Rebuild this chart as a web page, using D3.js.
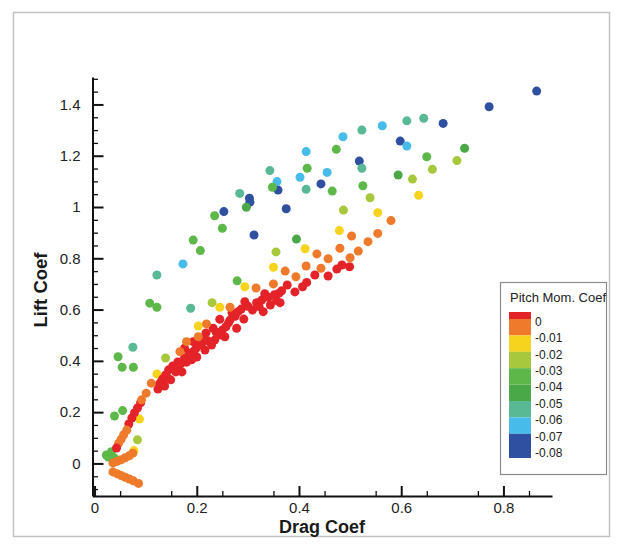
<!DOCTYPE html>
<html>
<head>
<meta charset="utf-8">
<script src="https://cdn.jsdelivr.net/npm/d3@7"></script>
<style>
  body { margin: 0; background: #fff; }
  text { font-family: "Liberation Sans", Arial, Helvetica, sans-serif; }
</style>
</head>
<body>
<div id="chart"></div>
<script>
// tick labels
let xTicks = [0, 0.2, 0.4, 0.6, 0.8];
let yTicks = [0, 0.2, 0.4, 0.6, 0.8, 1, 1.2, 1.4];

// legend levels (pitch moment coef)
let levels = [0, -0.01, -0.02, -0.03, -0.04, -0.05, -0.06, -0.07, -0.08];
let bandColors = ["#2f4fa0", "#47bbea", "#58b994", "#4aa848", "#5db849", "#a7c73c", "#f6d31d", "#ef7a2b", "#e42329"];

// points [drag coef, lift coef], one array per colour band
let redPts = [[0.431,0.735],[0.457,0.731],[0.333,0.662],[0.366,0.673],[0.377,0.696],[0.392,0.669],[0.407,0.689],[0.415,0.706],[0.484,0.774],[0.499,0.767],[0.474,0.758],[0.294,0.631],[0.317,0.627],[0.309,0.598],[0.330,0.592],[0.344,0.618],[0.356,0.635],[0.363,0.627],[0.281,0.592],[0.245,0.562],[0.265,0.559],[0.292,0.563],[0.278,0.527],[0.257,0.533],[0.232,0.527],[0.245,0.501],[0.255,0.494],[0.229,0.462],[0.212,0.488],[0.193,0.475],[0.209,0.462],[0.176,0.449],[0.193,0.436],[0.183,0.416],[0.190,0.404],[0.170,0.391],[0.361,0.664],[0.124,0.290],[0.127,0.310],[0.133,0.329],[0.139,0.345],[0.145,0.365],[0.153,0.380],[0.159,0.357],[0.163,0.396],[0.171,0.357],[0.176,0.411],[0.149,0.326],[0.137,0.302],[0.200,0.415],[0.216,0.442],[0.235,0.481],[0.218,0.509],[0.269,0.587],[0.327,0.637],[0.067,0.154],[0.073,0.177],[0.078,0.197],[0.084,0.216],[0.090,0.236],
  [0.130,0.318],[0.142,0.335],[0.156,0.370],[0.166,0.384],[0.180,0.395],[0.186,0.430],[0.198,0.447],[0.204,0.470],[0.222,0.478],[0.238,0.512],[0.250,0.520],[0.262,0.548],[0.275,0.574],[0.287,0.602],[0.300,0.613],[0.322,0.612],[0.340,0.648],[0.352,0.658]];
let orangePts = [[0.435,0.817],[0.457,0.798],[0.373,0.750],[0.394,0.728],[0.414,0.770],[0.443,0.761],[0.316,0.684],[0.350,0.700],[0.580,0.947],[0.554,0.897],[0.503,0.887],[0.535,0.865],[0.480,0.839],[0.516,0.828],[0.500,0.802],[0.265,0.609],[0.219,0.544],[0.203,0.494],[0.180,0.475],[0.167,0.436],[0.111,0.313],[0.101,0.274],[0.092,0.248],[0.047,0.078],[0.052,0.094],[0.057,0.112],[0.063,0.130],[0.036,0.002],[0.044,0.008],[0.052,0.014],[0.060,0.022],[0.068,0.030],[0.075,0.040],[0.036,-0.033],[0.044,-0.040],[0.052,-0.047],[0.060,-0.054],[0.068,-0.061],[0.076,-0.068],[0.086,-0.078]];
let redTail = [[0.043,0.060]];
let yellowPts = [[0.412,0.837],[0.350,0.765],[0.294,0.689],[0.634,1.046],[0.554,0.978],[0.479,0.908],[0.245,0.609],[0.203,0.536],[0.122,0.349],[0.088,0.173],[0.077,0.050]];
let yelGreenPts = [[0.355,0.825],[0.709,1.181],[0.661,1.147],[0.622,1.109],[0.539,1.036],[0.487,0.988],[0.230,0.627],[0.139,0.411],[0.084,0.092]];
let greenPts = [[0.416,1.151],[0.348,1.077],[0.235,0.966],[0.250,0.917],[0.193,0.871],[0.207,0.830],[0.279,0.712],[0.473,1.225],[0.650,1.196],[0.465,1.062],[0.525,1.083],[0.108,0.625],[0.122,0.609],[0.046,0.416],[0.054,0.375],[0.076,0.375],[0.039,0.185],[0.055,0.206],[0.023,0.033],[0.027,0.025],[0.033,0.046],[0.039,0.021]];
let darkGreenPts = [[0.297,0.999],[0.395,0.875],[0.724,1.229],[0.594,1.125]];
let tealPts = [[0.343,1.142],[0.414,1.069],[0.284,1.053],[0.122,0.735],[0.611,1.336],[0.644,1.346],[0.523,1.300],[0.523,1.151],[0.188,0.605],[0.075,0.453]];
let lightBluePts = [[0.414,1.216],[0.402,1.116],[0.455,1.135],[0.357,1.099],[0.173,0.778],[0.563,1.317],[0.486,1.274],[0.611,1.238]];
let bluePts = [[0.359,1.066],[0.443,1.090],[0.303,1.034],[0.304,1.019],[0.375,0.993],[0.253,0.982],[0.312,0.891],[0.865,1.452],[0.772,1.391],[0.682,1.326],[0.598,1.257],[0.518,1.179]];

// pitch moment value of each group, drawing order
let groups = [
  { cm: -0.075, pts: bluePts },
  { cm: -0.065, pts: lightBluePts },
  { cm: -0.055, pts: tealPts },
  { cm: -0.045, pts: darkGreenPts },
  { cm: -0.035, pts: greenPts },
  { cm: -0.025, pts: yelGreenPts },
  { cm: -0.015, pts: yellowPts },
  { cm: 0.003, pts: redPts },
  { cm: -0.005, pts: orangePts },
  { cm: 0.003, pts: redTail }
];

let W = 619, H = 548;

let svg = d3.select("#chart").append("svg").attr("width", W).attr("height", H);

// outer frame
svg.append("rect")
  .attr("x", 13.5).attr("y", 12.5)
  .attr("width", 596).attr("height", 524)
  .attr("fill", "#fff")
  .attr("stroke", "#c2c2c2")
  .attr("stroke-width", 1.5);

// scales
let x = d3.scaleLinear().domain([-0.004, 0.895]).range([92.5, 552]);
let y = d3.scaleLinear().domain([-0.127, 1.507]).range([496, 77]);

// colour: threshold on pitch moment
let color = d3.scaleThreshold()
  .domain([-0.07, -0.06, -0.05, -0.04, -0.03, -0.02, -0.01, 0])
  .range(bandColors);

// points
let dots = svg.append("g");
groups.forEach((grp) => {
  dots.append("g")
    .attr("fill", color(grp.cm))
    .selectAll("circle")
    .data(grp.pts)
    .enter()
    .append("circle")
    .attr("cx", (d) => x(d[0]))
    .attr("cy", (d) => y(d[1]))
    .attr("r", 4.5);
});

// minor ticks
let xMinor = d3.range(0.05, 0.9, 0.1);
let yMinor = d3.range(-0.1, 1.52, 0.05).filter((v) => Math.abs(v / 0.2 - Math.round(v / 0.2)) > 0.01);

svg.append("g")
  .attr("transform", "translate(0,496)")
  .call(d3.axisBottom(x).tickValues(xMinor).tickSize(-5).tickFormat(""))
  .call((g) => g.select(".domain").remove())
  .selectAll("line").attr("stroke", "#111").attr("stroke-width", 1.3);

svg.append("g")
  .attr("transform", "translate(92.5,0)")
  .call(d3.axisLeft(y).tickValues(yMinor).tickSize(-5.5).tickFormat(""))
  .call((g) => g.select(".domain").remove())
  .selectAll("line").attr("stroke", "#111").attr("stroke-width", 1.3);

// major axes
let xAxis = svg.append("g")
  .attr("transform", "translate(0,496)")
  .call(d3.axisBottom(x).tickValues(xTicks).tickSize(-10).tickSizeOuter(0).tickPadding(6).tickFormat((d) => d));

let yAxis = svg.append("g")
  .attr("transform", "translate(92.5,0)")
  .call(d3.axisLeft(y).tickValues(yTicks).tickSize(-11).tickSizeOuter(0).tickPadding(12).tickFormat((d) => d));

[xAxis, yAxis].forEach((g) => {
  g.select(".domain").attr("stroke", "#111").attr("stroke-width", 2);
  g.selectAll(".tick line").attr("stroke", "#111").attr("stroke-width", 2);
  g.selectAll(".tick text")
    .attr("fill", "#222")
    .style("font-size", "15px")
    .style("font-family", "'Liberation Sans', Arial, sans-serif");
});

// axis titles
svg.append("text")
  .attr("x", 322).attr("y", 533)
  .attr("text-anchor", "middle")
  .attr("font-weight", "bold")
  .attr("font-size", "18px")
  .attr("fill", "#1a1a1a")
  .text("Drag Coef");

svg.append("text")
  .attr("transform", "translate(47,290) rotate(-90)")
  .attr("text-anchor", "middle")
  .attr("font-weight", "bold")
  .attr("font-size", "18.5px")
  .attr("fill", "#1a1a1a")
  .text("Lift Coef");

// legend
let legend = svg.append("g");
legend.append("rect")
  .attr("x", 500.5).attr("y", 282.5)
  .attr("width", 106).attr("height", 192)
  .attr("fill", "#fff")
  .attr("stroke", "#8a8a8a")
  .attr("stroke-width", 1.2);

legend.append("text")
  .attr("x", 510).attr("y", 302)
  .attr("font-size", "13px")
  .attr("fill", "#222")
  .text("Pitch Mom. Coef");

let step = 16.4;
let bandValues = [0.003, -0.005, -0.015, -0.025, -0.035, -0.045, -0.055, -0.065, -0.075];
legend.selectAll(".band")
  .data(bandValues)
  .enter()
  .append("rect")
  .attr("class", "band")
  .attr("x", 509)
  .attr("width", 22)
  .attr("y", (d, i) => (i === 0 ? 312 : 319 + (i - 1) * step))
  .attr("height", (d, i) => (i === 0 ? 7 : i === 8 ? 458 - (319 + 7 * step) : step))
  .attr("fill", (d) => color(d));

legend.selectAll(".lvl")
  .data(levels)
  .enter()
  .append("text")
  .attr("class", "lvl")
  .attr("x", 535)
  .attr("y", (d, i) => 321.5 + i * step)
  .attr("dy", "0.35em")
  .attr("font-size", "12px")
  .attr("fill", "#222")
  .text((d) => d);
</script>
</body>
</html>
